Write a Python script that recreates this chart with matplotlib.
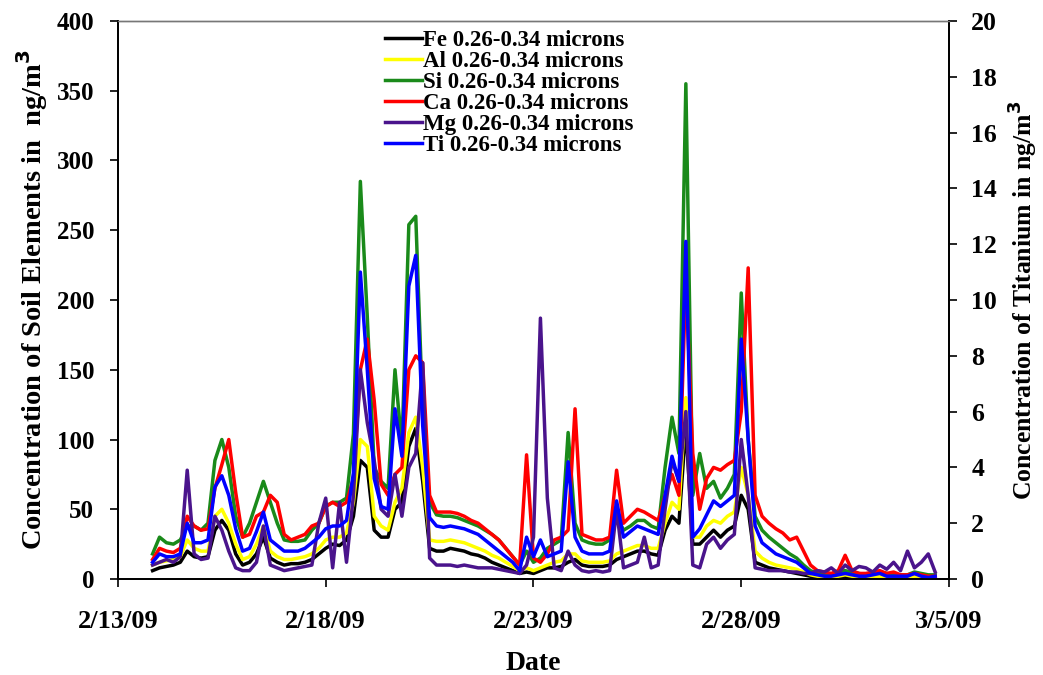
import matplotlib
matplotlib.use("Agg")
import matplotlib.pyplot as plt
import numpy as np
import pandas as pd

plt.rcParams['font.family'] = ['Liberation Serif', 'DejaVu Serif']
plt.rcParams['font.weight'] = 'bold'
plt.rcParams['axes.labelweight'] = 'bold'

# 4-hourly samples, 2/13/09 20:00 -> 3/4/09 16:00 (one row per day)
times = pd.date_range("2009-02-13 20:00", periods=114, freq="4h")

fe = [6,
      8, 9, 10, 12, 20, 16,
      15, 16, 35, 42, 35, 18,
      10, 12, 18, 30, 15, 12,
      10, 11, 11, 12, 14, 18,
      22, 25, 24, 28, 45, 85,
      80, 35, 30, 30, 50, 55,
      95, 108, 70, 22, 20, 20,
      22, 21, 20, 18, 17, 15,
      12, 10, 8, 6, 4, 5,
      4, 6, 8, 8, 9, 12,
      14, 10, 9, 9, 9, 10,
      14, 16, 18, 20, 20, 18,
      17, 35, 45, 40, 110, 25,
      25, 30, 35, 30, 35, 38,
      60, 50, 12, 10, 8, 7,
      6, 5, 4, 3, 2, 2,
      1, 1, 2, 2, 1, 1,
      1, 1, 1, 1, 1, 1,
      1, 1, 1, 1, 1]

al = [10,
      12, 13, 14, 16, 28, 22,
      20, 20, 45, 50, 40, 25,
      14, 16, 25, 38, 20, 16,
      14, 14, 15, 16, 18, 22,
      28, 30, 30, 33, 55, 100,
      95, 45, 38, 35, 55, 65,
      105, 116, 80, 28, 27, 27,
      28, 27, 26, 24, 22, 20,
      17, 15, 12, 9, 6, 8,
      6, 8, 10, 12, 13, 18,
      18, 13, 12, 12, 12, 13,
      18, 20, 22, 24, 24, 22,
      22, 40, 55, 50, 130, 30,
      30, 38, 42, 40, 45, 48,
      80, 60, 20, 15, 12, 10,
      9, 8, 7, 5, 3, 2,
      2, 2, 2, 3, 2, 2,
      2, 2, 2, 2, 2, 2,
      1, 2, 2, 1, 1]

si = [18,
      30, 26, 25, 28, 38, 38,
      35, 40, 85, 100, 80, 45,
      30, 40, 55, 70, 55, 40,
      28, 27, 27, 28, 35, 40,
      52, 55, 55, 58, 104, 285,
      188, 80, 70, 65, 150, 95,
      254, 260, 120, 55, 46, 45,
      45, 44, 42, 40, 38, 35,
      32, 28, 22, 16, 10, 20,
      12, 15, 22, 25, 28, 105,
      40, 28, 26, 25, 25, 28,
      45, 35, 38, 42, 42, 38,
      36, 80, 116, 90, 355, 60,
      90, 65, 70, 58, 65, 75,
      205, 100, 45, 35, 30, 26,
      22, 18, 15, 10, 6, 4,
      4, 3, 5, 6, 5, 4,
      3, 4, 5, 4, 3, 3,
      3, 5, 4, 3, 3]

ca = [14,
      22, 20, 19, 22, 45, 38,
      35, 36, 65, 82, 100, 62,
      30, 32, 45, 48, 60, 55,
      32, 28, 30, 32, 38, 40,
      52, 55, 52, 55, 72, 150,
      172, 128, 68, 60, 75, 80,
      150, 160, 155, 60, 48, 48,
      48, 47, 45, 42, 40, 36,
      32, 28, 22, 16, 10, 89,
      15, 12, 18, 28, 30, 35,
      122, 32, 30, 28, 28, 30,
      78, 40, 45, 50, 48, 45,
      42, 60, 75, 60, 215, 90,
      50, 72, 80, 78, 82, 85,
      120, 223, 60, 45, 40, 36,
      33, 28, 30, 20, 10, 6,
      5, 4, 6, 17, 6, 4,
      4, 5, 6, 4, 5, 3,
      3, 4, 3, 2, 2]

mg = [10,
      12, 14, 12, 16, 78, 18,
      14, 15, 45, 35, 20, 8,
      6, 6, 12, 38, 10, 8,
      6, 7, 8, 9, 10, 40,
      58, 8, 55, 12, 60, 150,
      112, 85, 50, 45, 75, 45,
      80, 90, 155, 15, 10, 10,
      10, 9, 10, 9, 8, 8,
      8, 7, 6, 5, 4, 10,
      30, 187, 58, 8, 6, 20,
      10, 6, 5, 6, 5, 6,
      50, 8, 10, 12, 30, 8,
      10, 50, 85, 70, 120, 10,
      8, 25, 30, 22, 28, 32,
      100, 60, 8, 7, 6, 6,
      6, 5, 5, 4, 4, 6,
      5, 8, 4, 10, 6, 9,
      8, 5, 10, 7, 12, 6,
      20, 8, 12, 18, 5]

# titanium is on the right-hand axis
ti = [0.6,
      0.9, 0.8, 0.8, 0.9, 2.0, 1.3,
      1.3, 1.4, 3.3, 3.7, 3.0, 1.8,
      1.0, 1.1, 1.7, 2.4, 1.4, 1.2,
      1.0, 1.0, 1.0, 1.1, 1.3, 1.5,
      1.8, 1.9, 1.9, 2.1, 3.8, 11.0,
      7.5, 3.6, 2.6, 2.5, 6.1, 4.4,
      10.5, 11.6, 5.5, 2.2, 1.9, 1.85,
      1.9, 1.85, 1.8, 1.7, 1.6, 1.4,
      1.2, 1.0, 0.8, 0.6, 0.3, 1.5,
      0.8, 1.4, 0.8, 0.9, 1.0, 4.2,
      1.5, 1.0, 0.9, 0.9, 0.9, 1.0,
      2.8, 1.5, 1.7, 1.9, 1.8, 1.7,
      1.6, 3.0, 4.4, 3.5, 12.1, 1.5,
      1.8, 2.3, 2.8, 2.6, 2.8, 3.0,
      8.6, 5.0, 1.9, 1.3, 1.1, 0.9,
      0.8, 0.7, 0.6, 0.4, 0.2, 0.15,
      0.1, 0.1, 0.15, 0.2, 0.15, 0.1,
      0.1, 0.15, 0.2, 0.1, 0.1, 0.1,
      0.1, 0.2, 0.1, 0.05, 0.1]

labels = ['Fe 0.26-0.34 microns', 'Al 0.26-0.34 microns', 'Si 0.26-0.34 microns',
          'Ca 0.26-0.34 microns', 'Mg 0.26-0.34 microns', 'Ti 0.26-0.34 microns']
colors = ['black', '#ffff00', '#1a8a1a', '#ff0000', '#4a148c', '#0000ff']

tick_dates = pd.to_datetime(['2009-02-13', '2009-02-18', '2009-02-23', '2009-02-28', '2009-03-05'])
tick_labels = ['2/13/09', '2/18/09', '2/23/09', '2/28/09', '3/5/09']

fig = plt.figure(figsize=(10.43, 6.75), dpi=100)
ax = fig.add_axes([0.1131, 0.1422, 0.7968, 0.8267])
ax2 = ax.twinx()

lw = 2.5
for vals, lab, c in zip([fe, al, si, ca, mg], labels[:5], colors[:5]):
    ax.plot(times, vals, color=c, lw=lw, label=lab)
ax2.plot(times, ti, color=colors[5], lw=lw, label=labels[5])

ax.set_xlim(tick_dates[0], tick_dates[-1])
ax.set_ylim(0, 400)
ax2.set_ylim(0, 20)
ax.set_yticks(np.arange(0, 401, 50))
ax2.set_yticks(np.arange(0, 21, 2))
ax.set_xticks(tick_dates)
ax.set_xticklabels(tick_labels)

ax.tick_params(axis='x', labelsize=19, length=6, width=1.2, pad=16)
ax.tick_params(axis='y', labelsize=18, length=6, width=1.2, pad=11)
ax2.tick_params(axis='y', labelsize=18.5, length=6, width=1.2, pad=10)
for a in (ax, ax2):
    for s in ['left', 'right', 'bottom']:
        a.spines[s].set_linewidth(1.3)
    a.spines['top'].set_color('#777777')
    a.spines['top'].set_linewidth(1.0)

ax.set_xlabel('Date', fontsize=20, labelpad=13)
ax.set_ylabel('Concentration of Soil Elements in  ng/m$^{\\mathbf{3}}$', fontsize=20.5, labelpad=5)
ax2.set_ylabel('Concentration of Titanium in ng/m$^{\\mathbf{3}}$', fontsize=18.5, labelpad=6)

h1, l1 = ax.get_legend_handles_labels()
h2, l2 = ax2.get_legend_handles_labels()
ax2.legend(h1 + h2, l1 + l2, loc='upper left', bbox_to_anchor=(385 / 1043, 1 - 30 / 675),
           bbox_transform=fig.transFigure, frameon=False, fontsize=16.5,
           handlelength=1.6, handletextpad=0.05, labelspacing=0.0,
           borderpad=0, borderaxespad=0)

fig.savefig('out.png', dpi=100)
